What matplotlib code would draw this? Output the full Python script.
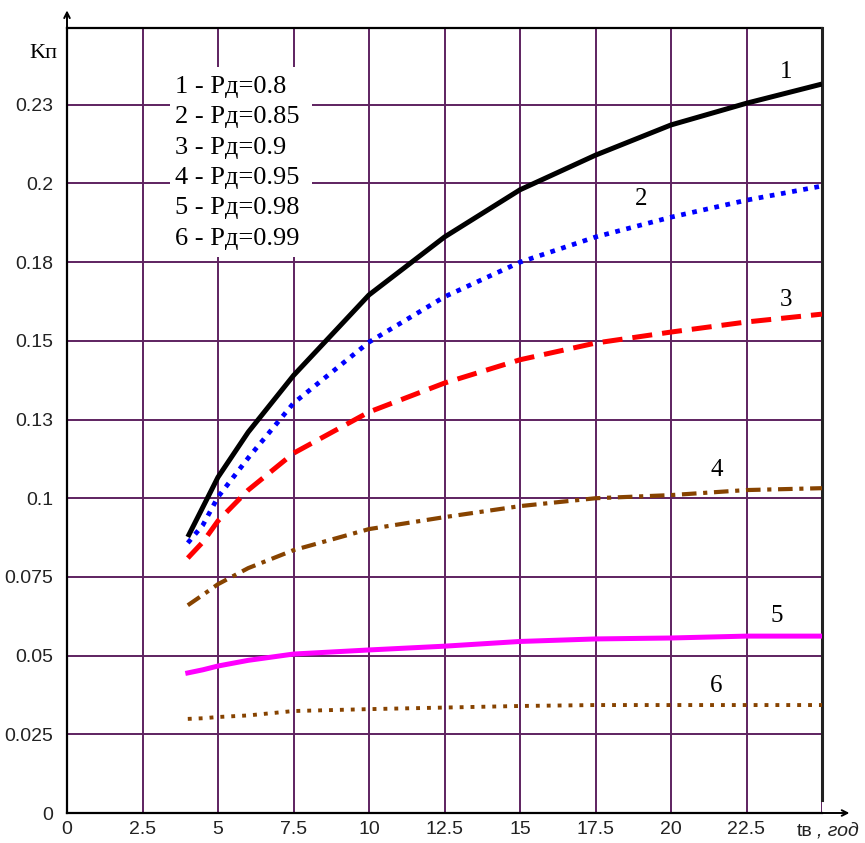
import matplotlib
matplotlib.use('Agg')
import matplotlib.pyplot as plt
from matplotlib.patches import Rectangle

# values (x = tв, years; y = Kп)
t = [4, 4.5, 5, 6, 7.5, 10, 12.5, 15, 17.5, 20, 22.5, 25]
k1 = [0.0877, 0.0972, 0.1067, 0.121, 0.139, 0.1646, 0.183, 0.198, 0.209, 0.2186, 0.2255, 0.2316]
k2 = [0.0858, 0.0915, 0.1004, 0.1128, 0.1302, 0.1496, 0.164, 0.175, 0.183, 0.1893, 0.1947, 0.1992]
k3 = [0.081, 0.0861, 0.0928, 0.1026, 0.1143, 0.1274, 0.1366, 0.144, 0.1493, 0.1528, 0.156, 0.1585]
k4 = [0.066, 0.0693, 0.0727, 0.0778, 0.0835, 0.0902, 0.094, 0.0975, 0.100, 0.101, 0.1026, 0.1032]
k5 = [0.0445, 0.0455, 0.0467, 0.0485, 0.0505, 0.0518, 0.053, 0.0545, 0.0553, 0.0556, 0.0562, 0.0562]
k6 = [0.0299, 0.0301, 0.0305, 0.031, 0.0324, 0.033, 0.0335, 0.034, 0.0343, 0.0343, 0.0343, 0.0343]

legend_lines = ["1 - Pд=0.8", "2 - Pд=0.85", "3 - Pд=0.9",
                "4 - Pд=0.95", "5 - Pд=0.98", "6 - Pд=0.99"]
xticks = [0, 2.5, 5, 7.5, 10, 12.5, 15, 17.5, 20, 22.5, 25]
xlabels = ["0", "2.5", "5", "7.5", "10", "12.5", "15", "17.5", "20", "22.5", ""]
yticks = [0, 0.025, 0.05, 0.075, 0.1, 0.125, 0.15, 0.175, 0.2, 0.225]
ylabels = ["0", "0.025", "0.05", "0.075", "0.1", "0.13", "0.15", "0.18", "0.2", "0.23"]

grid_col = '#5e2260'
brown = '#874300'
tick_font = ['Liberation Sans Narrow', 'Liberation Sans', 'DejaVu Sans']
serif = ['Liberation Serif', 'DejaVu Serif']

fig = plt.figure(figsize=(8.65, 8.43), dpi=100)
ax = fig.add_axes([67/865, 30/843, 755/865, 785/843])
ax.set_xlim(0, 25)
ax.set_ylim(0, 0.2494)

ax.plot(t, k1, color='black', lw=3.6, solid_capstyle='butt', solid_joinstyle='round', zorder=4)
ax.plot(t, k2, color='#0000ff', lw=3.4, linestyle=(0, (1, 1.4)), zorder=4)
ax.plot(t, k3, color='#ff0000', lw=3.6, linestyle=(0, (4, 2)), zorder=4)
ax.plot(t, k4, color=brown, lw=3.0, linestyle=(0, (3.5, 1.6, 1, 1.6)), zorder=4)
ax.plot(t, k5, color='#ff00ff', lw=3.6, solid_joinstyle='round', zorder=4)
ax.plot(t, k6, color=brown, lw=2.8, linestyle=(0, (1, 1.8)), zorder=4)

# curve numbers
for lab, xx, yy in [("1", 23.8, 0.2355), ("2", 19.0, 0.1950), ("3", 23.8, 0.1630),
                    ("4", 21.5, 0.1090), ("5", 23.5, 0.0625), ("6", 21.5, 0.0405)]:
    ax.text(xx, yy, lab, family=serif, fontsize=18, ha='center', va='center', zorder=5)

# legend block on white
ax.add_patch(Rectangle((3.41, 0.1766), 4.7, 0.0604, facecolor='white', edgecolor='none', zorder=2))
for i, s in enumerate(legend_lines):
    ax.text(3.58, 0.2306 - i*0.00963, s, family=serif, fontsize=19, ha='left', va='center', zorder=5)

ax.set_xticks(xticks)
ax.set_xticklabels(xlabels, family=tick_font, fontsize=14, color='#222222')
ax.set_yticks(yticks)
ax.set_yticklabels(ylabels, family=tick_font, fontsize=14, color='#222222')
ax.tick_params(length=0, pad=6)
ax.tick_params(axis='y', pad=10)
ax.grid(True, color=grid_col, lw=1.4)
ax.set_axisbelow(True)

for side in ['left', 'bottom', 'top']:
    ax.spines[side].set_linewidth(1.6)
    ax.spines[side].set_color('black')
ax.spines['right'].set_visible(False)
ax.plot([25, 25], [0.004, 0.2494], color='#222222', lw=2.2, clip_on=False, zorder=3)

# axis arrows
ax.annotate('', xy=(0, 1.026), xytext=(0, 0.99), xycoords='axes fraction',
            arrowprops=dict(arrowstyle='->', color='black', lw=1.4), annotation_clip=False)
ax.annotate('', xy=(1.04, 0), xytext=(0.99, 0), xycoords='axes fraction',
            arrowprops=dict(arrowstyle='->', color='black', lw=1.4), annotation_clip=False)

fig.text(43/865, 1 - 54/843, "Kп", family=serif, fontsize=16, ha='center', va='center')
fig.text(797/865, 1 - 831/843, "tв", family=tick_font, fontsize=14, ha='left', va='center', color='#222222')
fig.text(817/865, 1 - 831/843, ", год", family=tick_font, fontsize=14, style='italic',
         ha='left', va='center', color='#222222')

fig.savefig("out.png", dpi=100, facecolor='white')
